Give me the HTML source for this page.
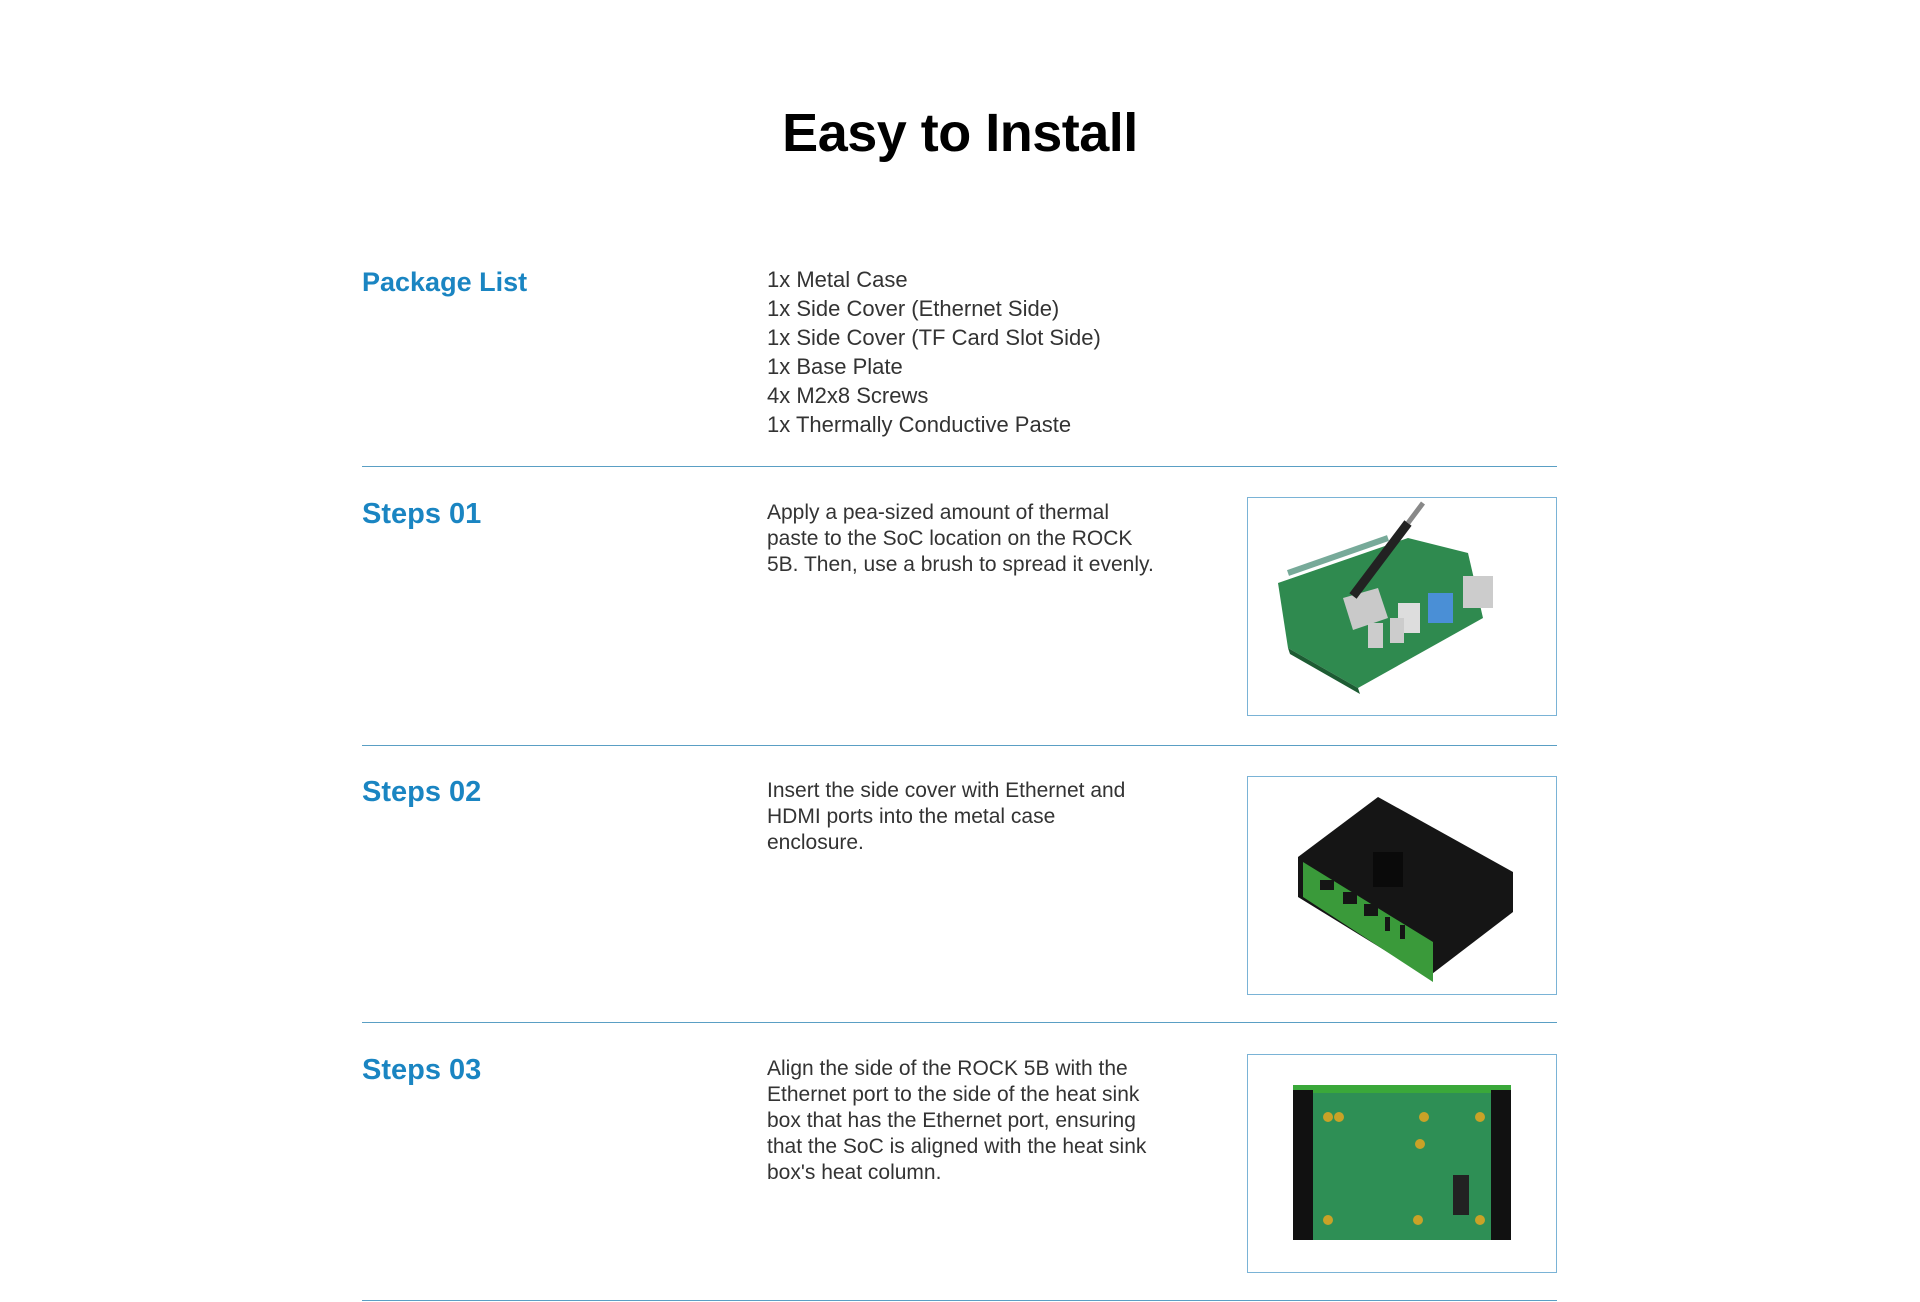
<!DOCTYPE html>
<html><head><meta charset="utf-8"><style>
body{margin:0;width:1920px;height:1302px;background:#fff;position:relative;overflow:hidden;font-family:"Liberation Sans",sans-serif;}
.a{position:absolute;}
h1{position:absolute;margin:0;left:0;width:1920px;text-align:center;top:102px;font-size:54px;font-weight:bold;color:#000;letter-spacing:-0.5px;}
.h{color:#1a85c2;font-size:27px;left:362px;font-weight:bold;}
.t{color:#333;font-size:21px;line-height:26px;left:767px;width:460px;white-space:nowrap;}
.l{left:362px;width:1195px;height:0;border-top:1.5px solid #5a9fc4;}
.b{left:1247px;width:308px;border:1.5px solid #7ab3d6;background:#fff;}
</style></head><body>
<h1>Easy to Install</h1>
<div class="a h" style="top:267px">Package List</div>
<div class="a t" style="top:265px;font-size:22px;line-height:29px">1x Metal Case<br>1x Side Cover (Ethernet Side)<br>1x Side Cover (TF Card Slot Side)<br>1x Base Plate<br>4x M2x8 Screws<br>1x Thermally Conductive Paste</div>
<div class="a l" style="top:466px"></div>

<div class="a h" style="top:498px;font-size:29px">Steps 01</div>
<div class="a t" style="top:500px">Apply a pea-sized amount of thermal<br>paste to the SoC location on the ROCK<br>5B. Then, use a brush to spread it evenly.</div>
<div class="a b" style="top:497px;height:217px">
<svg width="308" height="217">
<polygon points="30,85 160,40 220,55 235,120 110,190 40,150" fill="#2f8a4f"/>
<polygon points="40,150 110,190 112,196 42,156" fill="#1d5c33"/>
<polygon points="95,100 130,90 140,120 105,132" fill="#c9c9c9"/>
<rect x="150" y="105" width="22" height="30" fill="#ddd"/>
<rect x="180" y="95" width="25" height="30" fill="#4a8fd6"/>
<rect x="215" y="78" width="30" height="32" fill="#ccc"/>
<rect x="120" y="125" width="15" height="25" fill="#ccc"/>
<rect x="142" y="120" width="14" height="25" fill="#ccc"/>
<line x1="40" y1="75" x2="140" y2="40" stroke="#7a9" stroke-width="6"/>
<line x1="105" y1="98" x2="160" y2="25" stroke="#222" stroke-width="9"/>
<line x1="160" y1="25" x2="175" y2="5" stroke="#888" stroke-width="5"/>
</svg></div>
<div class="a l" style="top:745px"></div>

<div class="a h" style="top:776px;font-size:29px">Steps 02</div>
<div class="a t" style="top:778px">Insert the side cover with Ethernet and<br>HDMI ports into the metal case<br>enclosure.</div>
<div class="a b" style="top:776px;height:217px">
<svg width="308" height="217">
<polygon points="50,80 130,20 265,95 265,135 180,200 50,120" fill="#151515"/>
<polygon points="55,85 185,165 185,205 55,120" fill="#3a9a3a"/>
<rect x="72" y="103" width="14" height="10" fill="#151515"/>
<rect x="95" y="115" width="14" height="12" fill="#151515"/>
<rect x="116" y="127" width="14" height="12" fill="#151515"/>
<rect x="137" y="140" width="5" height="14" fill="#151515"/>
<rect x="152" y="148" width="5" height="14" fill="#151515"/>
<rect x="125" y="75" width="30" height="35" fill="#0a0a0a"/>
</svg></div>
<div class="a l" style="top:1022px"></div>

<div class="a h" style="top:1054px;font-size:29px">Steps 03</div>
<div class="a t" style="top:1056px">Align the side of the ROCK 5B with the<br>Ethernet port to the side of the heat sink<br>box that has the Ethernet port, ensuring<br>that the SoC is aligned with the heat sink<br>box's heat column.</div>
<div class="a b" style="top:1054px;height:217px">
<svg width="308" height="217">
<rect x="45" y="35" width="218" height="150" fill="#2e8f55"/>
<rect x="45" y="30" width="218" height="8" fill="#3aa83a"/>
<rect x="45" y="35" width="20" height="150" fill="#111"/>
<rect x="243" y="35" width="20" height="150" fill="#111"/>
<g fill="#c9a227"><circle cx="80" cy="62" r="5"/><circle cx="91" cy="62" r="5"/><circle cx="176" cy="62" r="5"/><circle cx="232" cy="62" r="5"/><circle cx="172" cy="89" r="5"/><circle cx="80" cy="165" r="5"/><circle cx="170" cy="165" r="5"/><circle cx="232" cy="165" r="5"/></g>
<rect x="205" y="120" width="16" height="40" fill="#222"/>
</svg></div>
<div class="a l" style="top:1300px"></div>
</body></html>
